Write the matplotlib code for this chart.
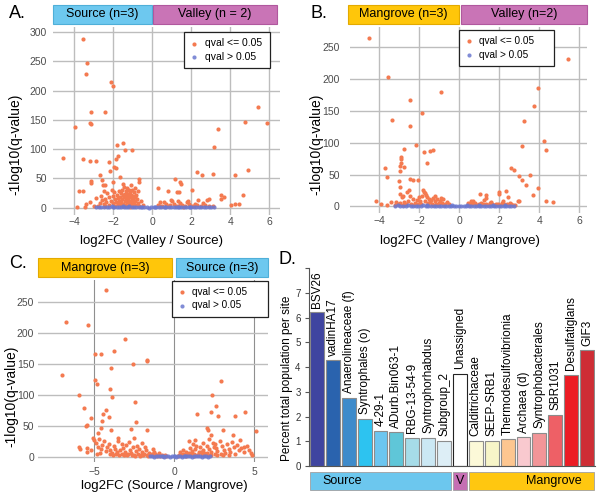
import matplotlib.pyplot as plt
from matplotlib.patches import Rectangle

plt.rcParams['font.family'] = ['Liberation Sans', 'DejaVu Sans']

W, H = 600, 498
SIG = '#F47A50'
NS = '#6B78CF'

# ---- panel A: Valley / Source ----
a_sig_x = [-3.54, -3.33, -3.42, -2.14, -2.0, -3.13, -2.44, -3.2, -3.15, -3.97, -4.6, -3.54, -3.21,
           -2.87, -2.22, -1.79, -1.5, -1.74, -1.88, -1.42, -1.03, -2.17, -1.98, -2.67, -1.86, -1.64,
           -3.15, -3.16, -2.6, -2.55, -2.41, -2.03, -0.67, -0.7, -3.78, -3.54, -3.88, -3.47,
           5.44, 5.9, 4.77, 3.35, 3.15, 2.27, 2.53, 3.13, 4.26, 4.89, 1.18, 1.42, 1.47, 0.31, 0.8,
           2.03, 1.25, 1.35, 2.89, 2.8, 2.36, 3.52, 3.68, 3.5, 4.67, 4.02, 4.26, 4.46, 0.39, 0.94,
           1.85, 1.3,
           -1.45, -1.3, -1.2, -1.05, -1.55, -1.7, -1.35, -1.15, -0.95, -1.6, -1.4, -1.25, -1.1, -0.85,
           -1.8, -1.5, -1.3, -1.0, -2.0, -1.65, -1.45, -1.2, -0.9, -2.2, -1.75, -1.35, -1.05, -0.8,
           -2.4, -1.9, -1.55, -1.25, -1.0, -2.6, -2.1, -1.7, -1.4, -1.15, -0.9, -2.35, -1.85, -1.6,
           -1.3, -1.05, -0.75, -2.7, -2.0, -1.5, -1.2, -0.95, -2.5, -1.75, -1.4, -1.1, -0.8, -2.2,
           -1.6, -1.3, -1.0, -2.8, -1.9, -0.7, -1.5, -2.4, -1.15, -3.0, -2.65, -2.3, -1.95, -2.05,
           -0.75, -0.6, -0.5, -3.2, -3.4, -2.9, -2.5, -1.1, -0.9, -1.5,
           0.3, 0.5, 0.7, 0.9, 1.1, 1.3, 1.5, 1.7, 1.9, 2.1, 2.3, 2.5, 2.7, 0.6, 1.0, 1.4, 1.8, 2.2,
           2.6, 0.4, 1.2, 2.0, 2.9, 3.1, 0.8, 1.6]
a_sig_y = [288.5, 247, 228, 215.5, 208, 163, 163, 145, 142.5, 138.5, 85, 84, 79,
           80, 77.5, 108, 110.5, 89, 84, 99, 99, 63, 69.5, 56.5, 67, 52.5,
           46, 42, 47, 39, 39, 44.5, 48.5, 44.5, 28.5, 28.5, 1.7, 1.7,
           172.7, 145, 146, 135, 104, 61, 55, 58, 55, 65, 48.5, 44.5, 40.5, 33.6, 28,
           30, 26, 27, 15, 12.5, 13, 21.7, 19, 15, 21, 4.6, 6.3, 5.7, 10, 13,
           12, 11,
           35, 33, 31, 30, 30, 28, 28, 27, 26, 25, 24, 23, 22, 22,
           22, 21, 20, 20, 20, 19, 18, 18, 18, 18, 17, 16, 16, 15,
           15, 15, 14, 14, 13, 13, 12, 12, 12, 11, 11, 10, 10, 9,
           9, 8, 8, 8, 8, 7, 7, 6, 6, 6, 5, 5, 4, 4,
           4, 3, 3, 3, 3, 2, 2, 2, 1.5, 2, 20, 25, 26, 31,
           28, 12, 5, 10, 6, 17, 28, 38, 34, 40,
           5, 3, 6, 4, 7, 3, 5, 2, 6, 3, 4, 2, 5, 9, 11, 8, 9, 7,
           8, 2, 2, 2, 3, 2, 2, 1.5]
a_ns_x = [-2.88, -2.74, -2.61, -2.47, -2.33, -2.22, -2.08, -1.96, -1.83, -1.71, -1.58, -1.44, -1.33,
          -1.19, -1.06, -0.94, -0.81, -0.67, -0.55, -0.41, -0.29, -0.16, -0.04, 0.09, 0.21, 0.34,
          0.47, 0.59, 0.72, 0.86, 0.97, 1.11, 1.23, 1.36, 1.49, 1.61, 1.74, 1.88, 1.99, 2.13, 2.26,
          2.38, 2.51, 2.64, 2.77, 2.9, 3.03, 3.18, -1.25, -0.6, 0.15, 0.65, 1.3, 1.95, -2.0, -1.5]
a_ns_y = [1.2, 0.6, 1.8, 0.9, 1.5, 0.4, 2.0, 1.1, 0.7, 1.6, 0.5, 1.3, 0.9,
          2.1, 0.6, 1.0, 0.3, 1.4, 0.8, 0.5, 1.2, 0.2, 0.6, 0.9, 0.3, 1.1,
          0.7, 1.5, 0.4, 1.0, 0.6, 1.3, 0.8, 0.4, 1.6, 0.7, 1.1, 0.5, 1.2, 0.8, 0.4,
          1.0, 0.6, 0.9, 0.5, 0.7, 0.4, 0.6, 1.8, 1.5, 0.5, 1.9, 1.7, 1.4, 0.3, 2.2]

# ---- panel B: Valley / Mangrove ----
b_sig_x = [-4.52, -3.53, -3.37, -2.43, -2.43, -0.88, -1.85, -2.13, -2.75, -2.9, -2.92, -2.93, -2.77,
           -3.72, -3.58, -2.9, -2.97, -3.0, -2.97, -2.97, -1.75, -1.43, -1.28, -1.58, -2.45, -2.28,
           -2.05, -2.52, -2.82, -4.15, -3.9, -3.58, -3.4, -3.17,
           5.42, 3.92, 3.73, 3.23, 3.13, 4.23, 4.33, 2.58, 2.73, 2.97, 3.15, 3.32, 3.55, 3.7, 3.93,
           4.32, 4.7, 2.98, 2.93, 2.32, 2.45, 2.0, 1.98, 1.02, 1.32, 1.32, 0.6,
           -1.8, -1.75, -1.7, -1.65, -1.85, -1.6, -1.5, -1.4, -1.3, -1.2, -1.1, -1.0, -0.95, -0.85,
           -0.8, -0.7, -0.6, -0.5, -2.0, -2.1, -2.2, -2.3, -2.4, -2.55, -2.65, -2.75, -2.85, -2.95,
           -3.05, -1.55, -1.35, -1.15, -1.9, -1.7, -1.45, -2.05, -2.45, -2.6, -1.2, -0.9, -1.95,
           -2.25, -1.05, -0.75, -1.6, -2.8, -3.2, -1.3,
           0.45, 0.55, 0.65, 0.8, 0.9, 1.0, 1.1, 1.2, 1.35, 1.45, 1.55, 1.65, 1.75, 1.85, 1.95, 2.05,
           2.15, 2.25, 2.4, 2.5, 2.6, 2.7, 0.7, 1.25, 1.6, 2.2, 2.55, 1.05, 0.5, 2.8]
b_sig_y = [264.7, 202.8, 136, 168, 126, 180, 147, 96.4, 89.6, 77.6, 74.4, 64, 61.8,
           59.7, 46, 68.7, 55, 40.4, 30.4, 19.4, 85.4, 87, 88.6, 67.6, 43.5, 41.4,
           41.4, 25, 15.7, 8.4, 3.1, 2, 6.3, 6.8,
           231, 186, 158, 133.6, 94.9, 102.7, 88, 60.8, 57, 47, 41.4, 34, 49.8, 17.8, 29.4,
           8.9, 6.8, 8.9, 7.9, 23.6, 14, 22.5, 19.9, 19.4, 17.3, 13, 7.9,
           25, 23, 21, 18, 16, 14, 12, 10, 13, 8, 11, 6, 9, 5,
           12, 4, 7, 3, 15, 10, 6, 12, 4, 9, 3, 7, 14, 5,
           3, 6, 4, 3, 4, 8, 7, 3, 16, 22, 16, 13, 8,
           2, 2, 2, 2, 2, 2, 2,
           6, 3, 4, 5, 2, 4, 6, 3, 4, 2, 5, 3, 2, 4, 3, 2,
           5, 3, 4, 2, 3, 2, 8, 10, 7, 9, 6, 2, 1.5, 2]
b_ns_x = [-3.18, -3.05, -2.93, -2.8, -2.66, -2.55, -2.41, -2.29, -2.16, -2.04, -1.9, -1.79, -1.65,
          -1.53, -1.4, -1.27, -1.15, -1.02, -0.9, -0.77, -0.64, -0.52, -0.39, -0.27, -0.14, -0.02,
          0.11, 0.23, 0.36, 0.48, 0.61, 0.73, 0.86, 0.98, 1.11, 1.23, 1.36, 1.49, 1.61, 1.74, 1.86,
          1.99, 2.11, 2.24, 2.36, 2.49, 2.61, 2.74, -1.6, -0.35, 0.4, 1.0, 1.7, 2.3]
b_ns_y = [0.8, 1.4, 0.5, 1.1, 0.7, 1.6, 0.4, 1.0, 1.3, 0.6, 0.9, 1.5, 0.3,
          1.2, 0.7, 0.5, 1.1, 0.8, 0.4, 1.3, 0.6, 0.3, 0.9, 0.5, 0.2, 0.4,
          0.3, 0.7, 0.5, 1.0, 0.6, 1.2, 0.4, 0.8, 1.1, 0.5, 0.9, 0.6, 1.3, 0.7, 0.4,
          1.0, 0.6, 0.8, 1.2, 0.5, 0.7, 0.9, 1.8, 1.6, 1.5, 1.7, 1.6, 1.5]

# ---- panel C: Source / Mangrove ----
c_sig_x = [-4.29, -6.79, -5.38, -7.04, -3.08, -4.98, -4.56, -3.75, -2.56, -1.69, -1.73, -3.94, -4.94,
           -4.83, -5.98, -4.04, -3.87, -5.67, -2.48, -5.21, -5.48, -5.54, -4.29, -4.44, -4.1, -4.5,
           -4.6, -4.75, -3.96, -2.71, -2.42, -1.71, -5.98, -5.92, -5.44, -5.44, -5.04,
           2.9, 2.38, 2.6, 1.4, 2.31, 2.73, 3.81, 4.44, 5.1, 2.04, 2.1, 3.02, 3.69, 2.29, 1.27,
           0.92, 4.35, 4.81,
           -4.9, -4.8, -4.7, -4.6, -4.5, -4.4, -4.3, -4.2, -4.1, -4.0, -3.9, -3.8, -3.7, -3.6, -3.5,
           -3.4, -3.3, -3.2, -3.1, -3.0, -2.9, -2.8, -2.7, -2.6, -2.5, -2.4, -2.3, -2.2, -2.1, -2.0,
           -1.9, -1.8, -1.7, -1.6, -1.5, -1.4, -1.3, -1.2, -1.1, -1.0, -0.9, -0.8, -0.7, -0.6, -0.5,
           -3.45, -2.95, -2.45, -1.95, -3.65, -3.15, -2.65, -2.15, -1.65, -3.85, -4.05, -3.25, -2.85,
           -2.35, -1.85, -1.35, -4.65, -5.1, -5.2, -4.85, -3.55, -2.55, -2.05, -1.25, -0.95,
           0.22, 0.31, 0.43, 0.52, 0.58, 0.71, 0.79, 0.93, 1.02, 1.08, 1.22, 1.29, 1.41, 1.52, 1.58,
           1.72, 1.81, 1.88, 2.01, 2.12, 2.18, 2.32, 2.39, 2.51, 2.62, 2.68, 2.83, 2.91, 2.98, 3.12,
           3.19, 3.31, 3.42, 3.48, 3.62, 3.71, 3.79, 3.92, 4.01, 4.12, 4.18, 4.36, 4.52, 4.69, 4.88,
           0.55, 0.96, 1.33, 1.77, 2.14, 2.57, 1.06, 1.47, 1.84, 2.26, 2.64, 0.74, 1.24, 3.07, 3.44,
           0.36, 1.16, 1.66, 2.06, 2.46]
c_sig_y = [269.4, 218, 213.4, 132, 190.7, 165.4, 166.5, 170, 150.3, 156.8, 155, 142.8, 123.4,
           117, 99, 110, 97, 78, 88, 62, 51.7, 50, 75.4, 69.5, 64.7, 57,
           45.8, 38.8, 43.6, 45.3, 56.6, 43, 16, 13, 13.5, 8, 27.5,
           122.3, 99, 81.4, 69.5, 71.7, 65.7, 65, 71.7, 41.5, 46.3, 42.6, 43, 35.6, 35, 26.4,
           25.9, 15.6, 5.4,
           22, 16, 28, 12, 19, 25, 9, 15, 21, 11, 6, 17, 13, 8, 26,
           10, 5, 14, 7, 19, 4, 11, 6, 15, 3, 9, 5, 12, 3, 8,
           4, 10, 2, 6, 3, 5, 2, 4, 1.5, 3, 1.5, 2.5, 1, 2, 1,
           3, 2, 1.5, 2, 4, 3, 2, 1.5, 1, 2.5, 4, 20, 24,
           18, 16, 12, 6, 31, 10, 5, 31, 30, 22, 8, 6,
           1, 3, 2, 5, 3, 8, 4, 6, 2, 9, 5, 12, 3, 7, 15,
           4, 10, 6, 18, 3, 12, 8, 22, 5, 14, 9, 25, 4, 17, 11,
           6, 20, 13, 8, 24, 15, 5, 19, 10, 27, 14, 7, 18, 11, 3,
           10, 14, 18, 22, 28, 20, 4, 2, 3, 2, 3, 1.5, 1.5, 2, 3,
           7, 20, 8, 6, 16]
c_ns_x = [-1.52, -1.38, -1.26, -1.13, -1.01, -0.88, -0.76, -0.63, -0.51, -0.38, -0.26, -0.13, -0.02,
          0.1, 0.23, 0.35, 0.48, 0.6, 0.72, 0.85, 0.97, 1.1, 1.22, 1.35, 1.47, 1.6, 1.72, 1.85,
          1.97, 2.1, 2.2, -0.7, 0.05, 0.65]
c_ns_y = [0.5, 0.9, 0.3, 0.7, 1.1, 0.4, 0.8, 0.2, 0.6, 1.0, 0.3, 0.7, 0.4,
          0.2, 0.6, 0.9, 0.3, 0.5, 0.8, 0.4, 0.6, 0.3, 0.7, 0.5, 0.4, 0.6, 0.3, 0.5,
          0.4, 0.3, 0.5, 1.3, 1.2, 1.1]

# ---- panel D: marker taxa ----
d_names = ['BSV26', 'vadinHA17', 'Anaerolineaceae (f)', 'Syntrophales (o)', '4-29-1',
           'ADurb.Bin063-1', 'RBG-13-54-9', 'Syntrophorhabdus', 'Subgroup_2', 'Unassigned',
           'Calditrichaceae', 'SEEP-SRB1', 'Thermodesulfovibrionia', 'Archaea (d)',
           'Syntrophobacterales', 'SBR1031', 'Desulfatiglans', 'GIF3']
d_values = [6.22, 4.27, 2.75, 1.91, 1.43, 1.36, 1.15, 1.15, 1.02, 3.73,
            1.02, 1.03, 1.08, 1.16, 1.35, 2.08, 3.69, 4.67]
d_colors = ['#3F45A0', '#2A63AE', '#3E8BCB', '#2DC3F0', '#6CC6F0', '#5FC6D8', '#A6DCE8',
            '#CBE8F4', '#DDEEF6', '#FFFFFF', '#FCF9D8', '#F7F5C8', '#FDC690', '#F9C9CF',
            '#F29598', '#EE6066', '#EC1C24', '#CE2D35']
d_groups = [('Source', 0, 8, '#6CC7EE', 'left'), ('V', 9, 9, '#C56FB3', 'center'),
            ('Mangrove', 10, 17, '#FFC710', 'right')]

fig = plt.figure(figsize=(6, 4.98), dpi=100)


def px_axes(left, top, right, bottom):
    return fig.add_axes([left / W, 1 - bottom / H, (right - left) / W, (bottom - top) / H])


def header(left, top, right, bottom, text, face, edge):
    fig.add_artist(Rectangle((left / W, 1 - bottom / H), (right - left) / W, (bottom - top) / H,
                             transform=fig.transFigure, facecolor=face, edgecolor=edge, lw=0.8))
    fig.text((left + right) / 2 / W, 1 - (top + bottom) / 2 / H, text, ha='center', va='center',
             fontsize=9)


def volcano(ax, sx, sy, nx, ny, xlim, ylim, xticks, yticks, ypad, xpad, legend_box, legfs):
    ax.scatter(sx, sy, s=9, color=SIG, linewidths=0, label='qval <= 0.05', zorder=3)
    ax.scatter(nx, ny, s=9, color=NS, alpha=0.85, linewidths=0, label='qval > 0.05', zorder=4)
    ax.set_xlim(xlim)
    ax.set_ylim(ylim)
    ax.set_xticks(xticks)
    ax.set_yticks(yticks)
    ax.grid(True, color='#BDBDBD', lw=1)
    ax.set_axisbelow(True)
    for s in ax.spines.values():
        s.set_visible(False)
    ax.tick_params(axis='y', length=0, labelsize=7.5, labelcolor='#4D4D4D', pad=ypad)
    ax.tick_params(axis='x', length=0, labelsize=7.5, labelcolor='#4D4D4D', pad=xpad)
    l, t, r, b = legend_box
    leg = ax.legend(loc='upper left', bbox_to_anchor=(l / W, 1 - b / H, (r - l) / W, (b - t) / H),
                    bbox_transform=fig.transFigure, mode='expand', borderaxespad=0,
                    fontsize=legfs, scatterpoints=1, markerscale=1.0, handlelength=0.8,
                    handletextpad=0.6, borderpad=0.6, labelspacing=0.35, fancybox=False,
                    framealpha=1)
    leg.get_frame().set_edgecolor('#222222')
    leg.get_frame().set_linewidth(0.9)
    leg.set_zorder(10)


axa = px_axes(53, 27, 280, 215)
volcano(axa, a_sig_x, a_sig_y, a_ns_x, a_ns_y, (-5.09, 6.55), (-12.6, 309),
        [-4, -2, 0, 2, 4, 6], [0, 50, 100, 150, 200, 250, 300], 4.5, 1.5,
        (184, 32, 270, 66), 7.5)
header(53, 5, 151.7, 24, 'Source (n=3)', '#6DC8EF', '#4FAFD8')
header(152.7, 5, 276.7, 24, 'Valley (n = 2)', '#C974B6', '#B0589E')

axb = px_axes(350, 27, 587, 213)
volcano(axb, b_sig_x, b_sig_y, b_ns_x, b_ns_y, (-5.45, 6.39), (-10.4, 282),
        [-4, -2, 0, 2, 4, 6], [0, 50, 100, 150, 200, 250], 7.5, 2,
        (458.7, 30, 554.3, 64), 7.2)
header(348.3, 5, 459, 24, 'Mangrove (n=3)', '#FFC60A', '#E3AA00')
header(461, 5, 586.7, 24, 'Valley (n=2)', '#C974B6', '#B0589E')

axc = px_axes(38.3, 280, 268.3, 461.7)
volcano(axc, c_sig_x, c_sig_y, c_ns_x, c_ns_y, (-8.5, 5.87), (-8.1, 285.5),
        [-5, 0, 5], [0, 50, 100, 150, 200, 250], 3, 4,
        (171.7, 281, 267.7, 314), 7.2)
for gl in axc.get_xgridlines():
    gl.set_color('#8F8F8F')
    gl.set_linewidth(0.8)
header(38.3, 258.3, 171.7, 276.7, 'Mangrove (n=3)', '#FFC60A', '#E3AA00')
header(175.7, 258.3, 267.7, 276.7, 'Source (n=3)', '#6DC8EF', '#4FAFD8')

# axis labels and panel letters
fig.text(152 / W, 1 - 241 / H, 'log2FC (Valley / Source)', ha='center', va='center', fontsize=9.5)
fig.text(460 / W, 1 - 241 / H, 'log2FC (Valley / Mangrove)', ha='center', va='center', fontsize=9.5)
fig.text(164 / W, 1 - 486 / H, 'log2FC (Source / Mangrove)', ha='center', va='center', fontsize=9.5)
fig.text(15 / W, 1 - 144 / H, '-1log10(q-value)', rotation=90, ha='center', va='center', fontsize=10)
fig.text(316 / W, 1 - 144 / H, '-1log10(q-value)', rotation=90, ha='center', va='center', fontsize=10)
fig.text(11 / W, 1 - 396 / H, '-1log10(q-value)', rotation=90, ha='center', va='center', fontsize=10)
for lx, ly, letter in [(9, 14, 'A.'), (310, 14, 'B.'), (9, 263, 'C.'), (279, 259, 'D.')]:
    fig.text(lx / W, 1 - ly / H, letter, ha='left', va='center', fontsize=13)

# ---- panel D ----
axd = px_axes(309, 268, 595, 466)
pos = list(range(len(d_names)))
edges = ['#222222' if n == 'Unassigned' else '#8C8C8C' for n in d_names]
axd.bar(pos, d_values, width=0.88, color=d_colors, edgecolor=edges, linewidth=0.8)
for p, name, v in zip(pos, d_names, d_values):
    axd.text(p, v + 0.18, name, rotation=90, ha='center', va='bottom', fontsize=8.5)
axd.set_xlim(-0.5, len(d_names) - 0.5)
axd.set_ylim(0, 8)
axd.set_yticks(range(9))
axd.set_yticklabels([str(i) for i in range(8)] + [''])
axd.set_xticks([])
axd.spines['top'].set_visible(False)
axd.spines['right'].set_visible(False)
axd.spines['left'].set_color('#555555')
axd.spines['bottom'].set_color('#555555')
axd.tick_params(axis='y', length=3, color='#555555', labelsize=7, labelcolor='#333333', pad=3)
fig.text(287 / W, 1 - 378 / H, 'Percent total population per site', rotation=90, ha='center',
         va='center', fontsize=8.5)

# group bar below panel D
x0, x1 = axd.get_xlim()
for name, i0, i1, col, align in d_groups:
    left = 309 + (i0 - 0.5 - x0) / (x1 - x0) * 286 + 1
    right = 309 + (i1 + 0.5 - x0) / (x1 - x0) * 286 - 1
    fig.add_artist(Rectangle((left / W, 1 - 490 / H), (right - left) / W, 18 / H,
                             transform=fig.transFigure, facecolor=col, edgecolor='#A0A0A0', lw=0.6))
    if align == 'left':
        tx = left + 12
    elif align == 'right':
        tx = right - 12
    else:
        tx = (left + right) / 2
    fig.text(tx / W, 1 - 481 / H, name, ha=align, va='center', fontsize=9)

fig.savefig('out.png', dpi=100)
